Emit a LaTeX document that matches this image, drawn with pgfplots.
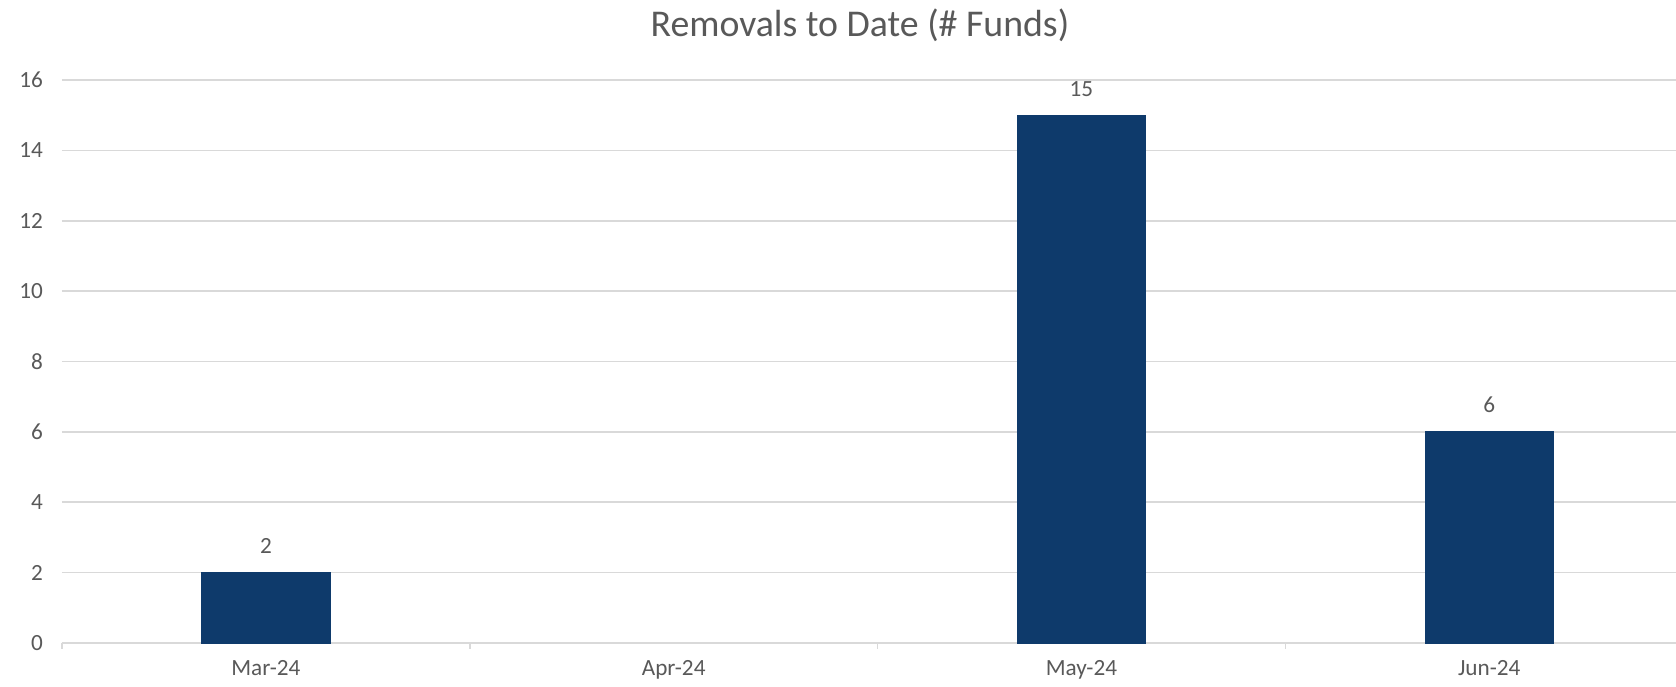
\documentclass[border=0pt]{standalone}
\usepackage{fontspec}
\setmainfont{Carlito}
\usepackage{pgfplots}
\pgfplotsset{compat=1.18}
\definecolor{barblue}{HTML}{0E3A6B}
\definecolor{txtgray}{HTML}{595959}
\definecolor{gridgray}{HTML}{D9D9D9}

\begin{document}
\begin{tikzpicture}
\begin{axis}[
    scale only axis,
    width=807pt,
    height=281.5pt,
    xmin=-0.5, xmax=3.458,
    ymin=0, ymax=16,
    ytick={0,2,...,16},
    xtick={0,1,2,3},
    xticklabels={Mar-24,Apr-24,May-24,Jun-24},
    major tick length=0pt,
    extra x ticks={-0.5,0.5,1.5,2.5},
    extra x tick labels={},
    extra x tick style={major tick length=2.8pt, tick align=outside, grid=none},
    axis x line*=bottom,
    axis y line*=left,
    x axis line style={gridgray, line width=0.8pt, -},
    y axis line style={draw=none},
    xtick style={gridgray, line width=0.8pt},
    ytick style={draw=none},
    ymajorgrids,
    major grid style={gridgray, line width=0.8pt},
    /pgf/number format/assume math mode=true,
    tick label style={font=\fontsize{11.6}{14}\selectfont, text=txtgray},
    yticklabel style={xshift=-6pt},
    xticklabel style={yshift=-5pt},
    title={Removals to Date (\# Funds)},
    title style={at={(0.5,1)}, anchor=base, yshift=15.5pt, xshift=-4.5pt,
        font=\fontsize{18.9}{22}\selectfont, text=txtgray},
    ybar,
    bar width=0.314,
    nodes near coords,
    every node near coord/.append style={anchor=base, yshift=9.5pt,
        font=\fontsize{11.6}{14}\selectfont, text=txtgray},
]
\addplot[fill=barblue, draw=barblue] coordinates {
    (0,2)
    (2,15)
    (3,6)
};
\end{axis}
\pgfresetboundingbox
\path ([xshift=-31pt,yshift=-21.5pt]current axis.south west)
    rectangle ([yshift=40pt]current axis.north east);
\end{tikzpicture}
\end{document}
